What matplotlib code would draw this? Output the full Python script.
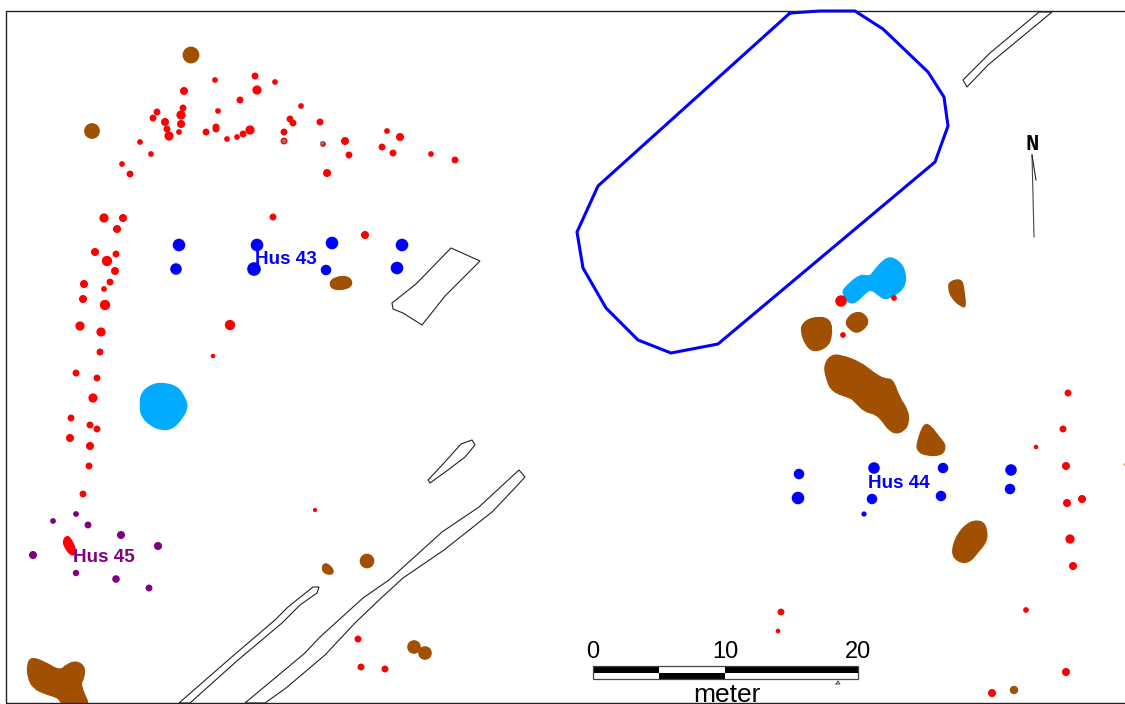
import matplotlib
matplotlib.use('Agg')
import matplotlib.pyplot as plt
from matplotlib.patches import Polygon, Rectangle, PathPatch
from matplotlib.path import Path

# everything in image pixels (x, y, radius)
red_holes = [(215,80,2.5),(255,76,3),(275,82,2.5),(184,91,3.5),(257,90,4),(240,100,3),(301,106,2.5),
             (218,111,2.5),(157,112,3),(183,108,3),(181,115,4),(153,118,3),(165,122,3.5),(181,124,3.5),
             (167,129,3),(169,136,4),(179,132,2.5),(206,132,3),(216,127,3),(216,129,3),(227,139,2.5),
             (237,137,2.5),(243,134,3),(250,130,4),(290,119,3),(293,123,3),(284,132,3),(284,141,3),
             (320,122,3),(323,144,2.5),(345,141,3.5),(349,155,3),(387,131,2.5),(400,137,3.5),(382,147,3),
             (393,153,3),(431,154,2.5),(455,160,3),(327,173,3.5),(140,142,2.5),(151,154,2.5),(122,164,2.5),
             (130,174,3),(104,218,4),(123,218,3.5),(117,229,3.5),(273,217,3),(365,235,3.5),(95,252,3.5),
             (116,254,3),(107,261,4.5),(115,271,3.5),(110,282,3),(84,284,3.5),(104,289,2.5),(83,299,3.5),
             (105,305,4.5),(80,326,4),(101,332,4),(230,325,4.5),(100,352,3),(213,356,2),(76,373,3),
             (97,378,3),(93,398,4),(71,418,3),(90,425,3),(97,429,3),(70,438,3.5),(90,446,3.5),(89,466,3),
             (83,494,3),(315,510,1.8),(358,639,3),(361,667,3),(385,669,3),
             (841,301,5),(894,298,2.5),(843,335,2.5),(1068,393,3),(1063,429,3),(1036,447,2),(1066,466,3.5),
             (1067,503,3.5),(1082,499,3.5),(1070,539,4),(1073,566,3.5),(1026,610,2.5),(1066,672,3.5),
             (992,693,3.5),(781,612,3),(778,631,2)]
grey_holes = [(284,141,2),(322,143,2)]
purple_holes = [(76,514,2.5),(53,521,2.5),(88,525,3),(121,535,3.5),(158,546,3.5),(33,555,3.5),
                (76,573,2.8),(116,579,3.3),(149,588,3)]
blue_holes = [(179,245,6),(176,269,5.5),(257,245,6),(254,269,6.5),(332,243,6),(326,270,5),(402,245,6),(397,268,6),
              (799,474,5),(798,498,6),(874,468,5.5),(872,499,5),(864,514,2.5),(943,468,5),(941,496,5),
              (1011,470,5.5),(1010,489,5)]
brown_holes = [(191,55,8),(92,131,7.5),(367,561,7),(414,647,6.5),(425,653,6.5),(1014,690,4)]

red_long = [(63,541),(66,536),(70,537),(76,549),(75,555),(70,555),(64,546)]

brown_pits = [
    [(950,281),(962,279),(964,290),(966,307),(962,307),(952,299),(948,288)],
    [(812,317),(831,318),(832,338),(826,348),(813,352),(805,344),(801,332),(802,324)],
    [(845,322),(852,313),(863,312),(870,323),(858,334),(849,329)],
    [(824,365),(831,355),(841,355),(860,362),(874,373),(884,379),(893,379),(899,397),(908,410),(909,423),
     (904,431),(895,434),(887,428),(884,423),(876,414),(865,412),(854,401),(851,398),(832,392),(826,378)],
    [(924,423),(931,426),(939,437),(946,445),(943,455),(927,456),(917,451),(917,442)],
    [(957,534),(970,521),(983,521),(987,530),(987,541),(979,551),(969,563),(958,562),(951,553)],
    [(27,665),(31,657),(45,662),(60,671),(67,664),(77,661),(85,667),(84,678),(80,685),(92,710),(63,710),
     (60,698),(45,694),(33,688),(28,678)],
    [(329,283),(335,277),(348,276),(353,283),(348,289),(333,290)],
    [(322,565),(327,563),(334,570),(332,575),(323,573)],
]
water = [
    [(843,289),(860,274),(870,277),(875,269),(888,256),(899,261),(905,270),(906,284),(898,294),(885,300),
     (877,294),(872,290),(867,291),(856,303),(848,303),(843,294)],
    [(141,393),(152,384),(165,383),(178,387),(185,398),(188,407),(182,419),(172,429),(162,430),(151,426),
     (141,416),(140,405)],
]
outlines = [
    [(451,248),(480,261),(445,296),(422,325),(403,313),(393,309),(392,303),(416,284)],
    [(428,480),(444,463),(461,444),(472,440),(475,445),(465,457),(448,470),(430,483)],
    [(245,703),(305,653),(320,637),(363,598),(389,580),(442,532),(479,507),(519,470),(525,477),(513,490),
     (492,512),(444,550),(403,578),(379,600),(355,623),(325,655),(286,688),(265,703)],
    [(179,703),(234,655),(275,620),(288,607),(313,587),(319,587),(317,593),(300,605),(282,623),(238,660),(190,703)],
    [(963,80),(990,53),(1039,12),(1052,12),(988,65),(967,87)],
]
moat = [(790,13),(820,11),(855,11),(883,29),(928,72),(944,97),(948,126),(935,162),(718,344),(671,353),
        (638,340),(606,308),(583,268),(577,232),(598,186),(790,13)]

scale_ticks = [0, 10, 20]
house_labels = ['Hus 43', 'Hus 44', 'Hus 45']

BROWN = '#a05000'
WATER = '#00aaff'
FONT = 'Liberation Sans'

fig = plt.figure(figsize=(11.25, 7.04), dpi=100)
ax = fig.add_axes([0, 0, 1, 1])
ax.set_xlim(0, 1125)
ax.set_ylim(704, 0)
ax.axis('off')


def holes(pts, color, z=3, grow=1.15):
    xs = [p[0] for p in pts]
    ys = [p[1] for p in pts]
    sizes = [(2 * p[2] * grow * 0.72) ** 2 for p in pts]
    ax.scatter(xs, ys, s=sizes, c=color, linewidths=0, zorder=z)


def blob(pts, color, z=2):
    # rounded outline, curves run through the edge midpoints
    n = len(pts)
    mids = [((pts[i][0] + pts[(i + 1) % n][0]) / 2, (pts[i][1] + pts[(i + 1) % n][1]) / 2) for i in range(n)]
    verts = [mids[-1]]
    codes = [Path.MOVETO]
    for i in range(n):
        verts += [pts[i], mids[i]]
        codes += [Path.CURVE3, Path.CURVE3]
    ax.add_patch(PathPatch(Path(verts, codes), fc=color, ec=color, lw=0.8, zorder=z))


for shape in outlines:
    ax.add_patch(Polygon(shape, closed=True, fill=False, ec='#222222', lw=0.8, zorder=2))
for shape in water:
    blob(shape, WATER)
for shape in brown_pits:
    blob(shape, BROWN)
blob(red_long, 'red', z=3)

holes(brown_holes, BROWN, grow=1.05)
holes(red_holes, 'red')
holes(grey_holes, '#808080', z=4, grow=1.0)
holes(purple_holes, 'purple')
holes(blue_holes, '#0000ff', grow=1.05)
ax.scatter([1124], [464], s=3, c='#c8a878', linewidths=0)

ax.plot([p[0] for p in moat], [p[1] for p in moat], color='#0000ff', lw=2.2, zorder=3)

# frame, no line on the right. white strip hides what runs past the bottom
ax.add_patch(Rectangle((0, 703), 1125, 2, fc='white', ec='none', zorder=4))
ax.plot([1125, 6, 6, 1125], [11, 11, 703, 703], color='#222222', lw=1.0, zorder=5)

ax.text(255, 260, house_labels[0], color='#0000ff', fontsize=13.6, fontweight='bold', family=FONT, va='center', zorder=6)
ax.text(868, 484, house_labels[1], color='#0000ff', fontsize=13.6, fontweight='bold', family=FONT, va='center', zorder=6)
ax.text(73, 557.5, house_labels[2], color='purple', fontsize=13.6, fontweight='bold', family=FONT, va='center', zorder=6)

# scale bar
x0 = 592.5
per_m = (858 - 592.5) / 20
for a, b, top, bottom in [(0, 5, 'black', 'white'), (5, 10, 'white', 'black'), (10, 20, 'black', 'white')]:
    ax.add_patch(Rectangle((x0 + a * per_m, 666), (b - a) * per_m, 6.5, fc=top, ec='none', zorder=4))
    ax.add_patch(Rectangle((x0 + a * per_m, 672.5), (b - a) * per_m, 6.5, fc=bottom, ec='none', zorder=4))
ax.add_patch(Rectangle((x0, 666), 20 * per_m, 13, fill=False, ec='#444444', lw=0.9, zorder=5))
for t in scale_ticks:
    ax.text(x0 + t * per_m, 652, str(t), fontsize=17, family=FONT, ha='center', va='center', zorder=6)
ax.text(727, 695, 'meter', fontsize=19, family=FONT, ha='center', va='center', zorder=6)
ax.plot([836, 840, 838, 836], [684, 684, 681, 684], color='#333333', lw=0.6, zorder=5)

# north arrow
ax.text(1032, 145, 'N', fontsize=16, fontweight='bold', family='Liberation Mono', ha='center', va='center', zorder=6)
ax.plot([1032, 1034], [155, 237], color='#444444', lw=0.8, zorder=5)
ax.plot([1032, 1036], [155, 180], color='#222222', lw=0.8, zorder=5)

fig.savefig('out.png', dpi=100)
